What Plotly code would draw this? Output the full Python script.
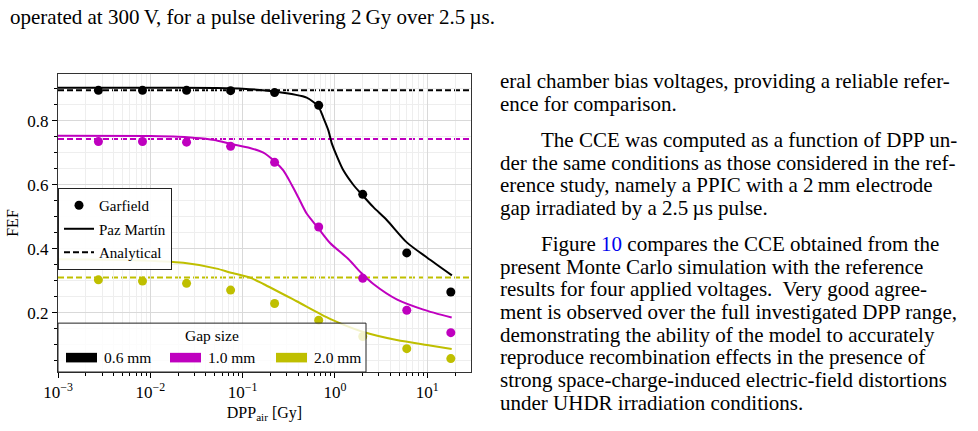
import plotly.graph_objects as go

# ---------------- data ----------------
dose = [0.00274, 0.00823, 0.0247, 0.0741, 0.222, 0.667, 2.0, 6.0, 18.0]
garfield_06 = [0.895, 0.895, 0.895, 0.894, 0.888, 0.848, 0.570, 0.387, 0.265]
garfield_10 = [0.735, 0.735, 0.733, 0.720, 0.670, 0.468, 0.308, 0.208, 0.138]
garfield_20 = [0.303, 0.299, 0.292, 0.271, 0.229, 0.177, 0.126, 0.088, 0.057]

analytical = {"0.6 mm": 0.895, "1.0 mm": 0.743, "2.0 mm": 0.310}

paz_06_dose = [0.001, 0.01, 0.05, 0.1, 0.224, 0.494, 0.66, 0.748, 0.849, 0.923,
               1.047, 1.234, 1.58, 1.95, 2.61, 3.64, 6.0, 10.0, 18.5]
paz_06 = [0.903, 0.903, 0.902, 0.900, 0.891, 0.872, 0.845, 0.810, 0.770, 0.730,
          0.690, 0.645, 0.600, 0.570, 0.530, 0.490, 0.420, 0.372, 0.317]
paz_10_dose = [0.001, 0.01, 0.02, 0.035, 0.055, 0.073, 0.12, 0.168, 0.224, 0.276,
               0.34, 0.402, 0.494, 0.645, 0.885, 1.397, 1.92, 2.61, 4.67, 9.08, 18.4]
paz_10 = [0.753, 0.752, 0.750, 0.745, 0.737, 0.728, 0.715, 0.700, 0.672, 0.645,
          0.600, 0.560, 0.510, 0.468, 0.418, 0.368, 0.325, 0.290, 0.242, 0.210, 0.185]
paz_20_dose = [0.001, 0.00655, 0.0228, 0.0524, 0.073, 0.12, 0.168, 0.385, 0.885,
               2.03, 4.67, 10.7, 18.4]
paz_20 = [0.367, 0.364, 0.356, 0.338, 0.326, 0.310, 0.290, 0.236, 0.181,
          0.140, 0.115, 0.098, 0.087]

gap_labels = ["0.6 mm", "1.0 mm", "2.0 mm"]
colors = ["#000000", "#bf00bf", "#bfbf00"]

x_major = [0.001, 0.01, 0.1, 1, 10]
x_major_text = ["10<sup>−3</sup>", "10<sup>−2</sup>", "10<sup>−1</sup>", "10<sup>0</sup>", "10<sup>1</sup>"]
x_minor = [k * d for d in [0.001, 0.01, 0.1, 1, 10] for k in range(2, 10)]
y_major = [0.2, 0.4, 0.6, 0.8]
y_minor = [round(0.05 * i, 2) for i in range(1, 19)]

caption_line = "operated at 300\u2009V, for a pulse delivering 2\u2009Gy over 2.5\u2009µs."
body_lines = [
    (False, "eral chamber bias voltages, providing a reliable refer-"),
    (False, "ence for comparison."),
    (True, "The CCE was computed as a function of DPP un-"),
    (False, "der the same conditions as those considered in the ref-"),
    (False, "erence study, namely a PPIC with a 2\u2009mm electrode"),
    (False, "gap irradiated by a 2.5\u2009µs pulse."),
    (True, "Figure <span style='color:#0000ee'>10</span> compares the CCE obtained from the"),
    (False, "present Monte Carlo simulation with the reference"),
    (False, "results for four applied voltages.  Very good agree-"),
    (False, "ment is observed over the full investigated DPP range,"),
    (False, "demonstrating the ability of the model to accurately"),
    (False, "reproduce recombination effects in the presence of"),
    (False, "strong space-charge-induced electric-field distortions"),
    (False, "under UHDR irradiation conditions."),
]

# ---------------- layout geometry ----------------
W, H = 978, 431
L, R, T, B = 58, 507, 74, 46
FONT = "Liberation Serif"
BODY_SIZE = 21
DASH = "6px,3px"


def px_x(p):
    return (p - L) / (W - L - R)


def px_y(p):
    return (H - B - p) / (H - T - B)


fig = go.Figure()

paz = [(paz_06_dose, paz_06), (paz_10_dose, paz_10), (paz_20_dose, paz_20)]
gar = [garfield_06, garfield_10, garfield_20]
for i, lab in enumerate(gap_labels):
    fig.add_trace(go.Scatter(x=paz[i][0], y=paz[i][1], mode="lines",
                             line=dict(color=colors[i], width=2, shape="spline", smoothing=0.7),
                             showlegend=False, hoverinfo="skip"))
    fig.add_trace(go.Scatter(x=dose, y=gar[i], mode="markers",
                             marker=dict(color=colors[i], size=9),
                             showlegend=False))
    fig.add_shape(type="line", xref="paper", x0=0, x1=1, yref="y",
                  y0=analytical[lab], y1=analytical[lab], layer="between",
                  line=dict(color=colors[i], width=2, dash=DASH))

# legend 1 (line styles) -- native legend
fig.add_trace(go.Scatter(x=[None], y=[None], mode="markers", name="Garfield",
                         marker=dict(color="black", size=9), legendgroup="a"))
fig.add_trace(go.Scatter(x=[None], y=[None], mode="lines", name="Paz Martín",
                         line=dict(color="black", width=2), legendgroup="b"))
fig.add_trace(go.Scatter(x=[None], y=[None], mode="lines", name="Analytical",
                         line=dict(color="black", width=2, dash=DASH), legendgroup="c"))

annotations = [dict(text=caption_line, x=px_x(8), y=px_y(15), xref="paper", yref="paper",
                    xanchor="left", yanchor="middle", showarrow=False,
                    font=dict(family=FONT, size=BODY_SIZE, color="black"))]
y0, dy = 81.5, 23.65
for k, (indent, txt) in enumerate(body_lines):
    yy = y0 + dy * k + (14 if k >= 2 else 0) + (14 if k >= 6 else 0)
    annotations.append(dict(text=txt, x=px_x(539 if indent else 498), y=px_y(yy),
                            xref="paper", yref="paper", xanchor="left", yanchor="middle",
                            showarrow=False, font=dict(family=FONT, size=BODY_SIZE, color="black")))

# legend 2 (gap size) -- drawn box with colour patches
shapes_extra = [dict(type="rect", xref="paper", yref="paper",
                     x0=px_x(58), x1=px_x(366), y0=px_y(385), y1=px_y(334),
                     fillcolor="rgba(255,255,255,0.8)", line=dict(color="#222", width=1),
                     layer="above")]
annotations.append(dict(text="Gap size", x=px_x(212), y=px_y(347), xref="paper", yref="paper",
                        xanchor="center", yanchor="middle", showarrow=False,
                        font=dict(family=FONT, size=15.5, color="black")))
patch_x = [66, 170, 276]
for i, lab in enumerate(gap_labels):
    shapes_extra.append(dict(type="rect", xref="paper", yref="paper",
                             x0=px_x(patch_x[i]), x1=px_x(patch_x[i] + 31),
                             y0=px_y(375), y1=px_y(365), fillcolor=colors[i],
                             line=dict(width=0), layer="above"))
    annotations.append(dict(text=lab, x=px_x(patch_x[i] + 36), y=px_y(370),
                            xref="paper", yref="paper", xanchor="left", yanchor="middle",
                            showarrow=False, font=dict(family=FONT, size=15.5, color="black")))
for s in shapes_extra:
    fig.add_shape(**s)

fig.update_layout(
    width=W, height=H,
    margin=dict(l=L, r=R, t=T, b=B, pad=0),
    paper_bgcolor="white", plot_bgcolor="white",
    font=dict(family=FONT, size=15, color="black"),
    annotations=annotations,
    xaxis=dict(type="log", range=[-3, 1.474], tickvals=x_major, ticktext=x_major_text,
               ticks="outside", ticklen=5, tickwidth=1, tickcolor="black",
               showline=True, linecolor="#333", linewidth=1, mirror=True,
               showgrid=True, gridcolor="#d9d9d9", gridwidth=1, zeroline=False,
               tickfont=dict(family=FONT, size=17),
               minor=dict(tickvals=x_minor, ticks="outside", ticklen=3, tickcolor="black",
                          showgrid=True, gridcolor="#eeeeee", gridwidth=1),
               title=dict(text="DPP<sub>air</sub> [Gy]", standoff=5,
                          font=dict(family=FONT, size=16))),
    yaxis=dict(range=[0.015, 0.946], tickvals=y_major, ticktext=[str(v) for v in y_major],
               ticks="outside", ticklen=5, tickwidth=1, tickcolor="black",
               showline=True, linecolor="#333", linewidth=1, mirror=True,
               showgrid=True, gridcolor="#d9d9d9", gridwidth=1, zeroline=False,
               tickfont=dict(family=FONT, size=17),
               minor=dict(tickvals=y_minor, ticks="outside", ticklen=3, tickcolor="black",
                          showgrid=True, gridcolor="#eeeeee", gridwidth=1),
               title=dict(text="FEF", standoff=4, font=dict(family=FONT, size=16))),
    legend=dict(x=0, y=px_y(193), xanchor="left", yanchor="top", orientation="v",
                bgcolor="rgba(255,255,255,0.9)", bordercolor="#222", borderwidth=1,
                font=dict(family=FONT, size=15), tracegroupgap=1, itemwidth=30),
)

fig.write_html("out.html")
